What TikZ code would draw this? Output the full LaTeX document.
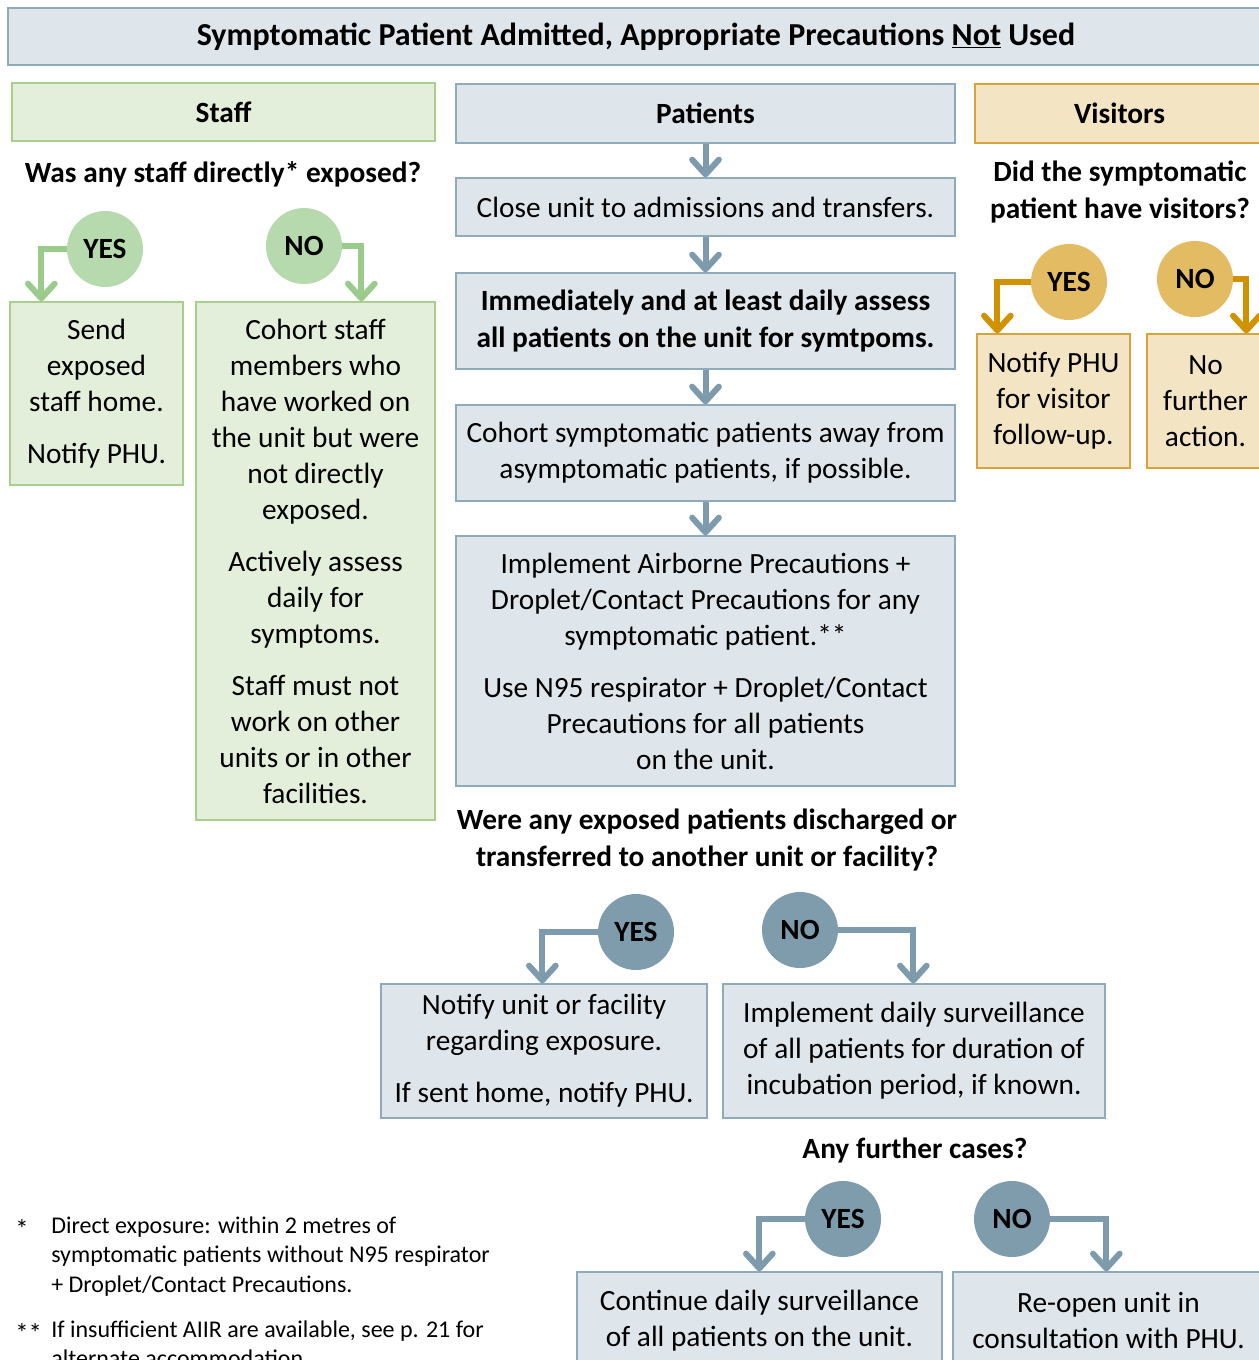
\documentclass[tikz,border=0pt]{standalone}
\usepackage{fontspec}
\setmainfont{Carlito}
\usetikzlibrary{arrows.meta}
\definecolor{pfill}{HTML}{DFE6EB}
\definecolor{pline}{HTML}{8FAABB}
\definecolor{parrow}{HTML}{7E9BAD}
\definecolor{pcirc}{HTML}{7F9CAD}
\definecolor{gfill}{HTML}{E3EFDB}
\definecolor{gline}{HTML}{A8D08D}
\definecolor{garrow}{HTML}{9ACB8C}
\definecolor{gcirc}{HTML}{B6DAAE}
\definecolor{yfill}{HTML}{F3E4C3}
\definecolor{yline}{HTML}{D6A43A}
\definecolor{yarrow}{HTML}{D09200}
\definecolor{ycirc}{HTML}{E2BB63}
\begin{document}
\begin{tikzpicture}[x=0.75pt,y=-0.75pt,
  txt/.style={font=\fontsize{22}{27}\selectfont, align=center, inner sep=0pt},
  bold/.style={txt, font=\fontsize{22}{27.5}\selectfont\bfseries},
  bf/.style={font=\fontsize{22}{27.5}\selectfont\bfseries},
  box/.style={txt, draw, line width=1pt},
  bx/.style 2 args={minimum width=#1*0.75pt, minimum height=#2*0.75pt},
  pbox/.style={box, draw=pline, fill=pfill},
  gbox/.style={box, draw=gline, fill=gfill},
  ybox/.style={box, draw=yline, fill=yfill},
  circ/.style={circle, minimum size=57pt, inner sep=0pt, font=\fontsize{22}{27}\selectfont\bfseries},
  pcircle/.style={circ, fill=pcirc},
  gcircle/.style={circ, fill=gcirc},
  ycircle/.style={circ, fill=ycirc},
  arr/.style={line width=4.5pt, -{Straight Barb[length=11pt,width=20pt,round]}},
  parr/.style={arr, draw=parrow},
  garr/.style={arr, draw=garrow},
  yarr/.style={arr, draw=yarrow},
  fn/.style={font=\fontsize{18}{22.1}\selectfont, align=left, inner sep=0pt}
]
\useasboundingbox (0,0) rectangle (1259,1360);
\clip (0,0) rectangle (1259,1360);

% title
\node[pbox, font=\fontsize{24}{28}\selectfont\bfseries, bx={1256}{57}] (title) at (636,36.5)
  {Symptomatic Patient Admitted, Appropriate Precautions \underline{Not} Used};

% headers
\node[gbox, bf, bx={423}{58}] (staff) at (223.5,112) {Staff};
\node[pbox, bf, bx={499}{59}] (patients) at (705.5,113.5) {Patients};
\node[ybox, bf, bx={289}{59}] (visitors) at (1119.5,113.5) {Visitors};

% ---------- staff ----------
\node[bold] (sq) at (223,174) {Was any staff directly* exposed?};
\node[gcircle] (syes) at (105,249) {YES};
\node[gcircle] (sno) at (304,246) {NO};
\node[gbox, bx={173}{183}] (send) at (96.5,393.5)
  {Send\\exposed\\staff home.\\[12pt]Notify PHU.};
\node[gbox, bx={239}{518}] (cohort) at (315.5,561)
  {Cohort staff\\members who\\have worked on\\the unit but were\\not directly\\exposed.\\[12pt]Actively assess\\daily for\\symptoms.\\[12pt]Staff must not\\work on other\\units or in other\\facilities.};
\draw[garr] (syes.west) -| ([xshift=24pt]send.north west);
\draw[garr] (sno.east) -| ([xshift=124.5pt]cohort.north west);

% ---------- patients ----------
\node[pbox, bx={499}{58}] (close) at (705.5,207) {Close unit to admissions and transfers.};
\node[pbox, bf, bx={499}{96}] (assess) at (705.5,321)
  {Immediately and at least daily assess\\all patients on the unit for symtpoms.};
\node[pbox, bx={499}{96}] (cohortp) at (705.5,453)
  {Cohort symptomatic patients away from\\asymptomatic patients, if possible.};
\node[pbox, bx={499}{250}] (impl) at (705.5,661)
  {Implement Airborne Precautions +\\Droplet/Contact Precautions for any\\symptomatic patient.**\\[12pt]Use N95 respirator + Droplet/Contact\\Precautions for all patients\\on the unit.};
\draw[parr] (patients) -- (close);
\draw[parr] (close) -- (assess);
\draw[parr] (assess) -- (cohortp);
\draw[parr] (cohortp) -- (impl);

\node[bold] (pq) at (707,840) {Were any exposed patients discharged or\\transferred to another unit or facility?};
\node[pcircle] (pyes) at (636,932) {YES};
\node[pcircle] (pno) at (800,930) {NO};
\node[pbox, bx={326}{134}] (notify) at (544,1051)
  {Notify unit or facility\\regarding exposure.\\[12pt]If sent home, notify PHU.};
\node[pbox, bx={382}{134}] (surv) at (914,1051)
  {Implement daily surveillance\\of all patients for duration of\\incubation period, if known.};
\draw[parr] (pyes.west) -| ([xshift=121.5pt]notify.north west);
\draw[parr] (pno.east) -| ([xshift=143.25pt]surv.north west);

\node[bold] (fq) at (915,1150) {Any further cases?};
\node[pcircle] (fyes) at (843,1219) {YES};
\node[pcircle] (fno) at (1012,1219) {NO};
\node[pbox, bx={365}{97}] (cont) at (759.5,1320.5)
  {Continue daily surveillance\\of all patients on the unit.};
\node[pbox, bx={311}{97}] (reopen) at (1108.5,1320.5)
  {Re-open unit in\\consultation with PHU.};
\draw[parr] (fyes.west) -| ([xshift=137.25pt]cont.north west);
\draw[parr] (fno.east) -| ([xshift=115.5pt]reopen.north west);

% ---------- visitors ----------
\node[bold] (vq) at (1120,192) {Did the symptomatic\\patient have visitors?};
\node[ycircle] (vyes) at (1069,282) {YES};
\node[ycircle] (vno) at (1195,279) {NO};
\node[ybox, bx={153}{134}] (vnotify) at (1053.5,401) {Notify PHU\\for visitor\\follow-up.};
\node[ybox, bx={117}{134}] (vnone) at (1205.5,401) {No\\further\\action.};
\draw[yarr] (vyes.west) -| ([xshift=15.75pt]vnotify.north west);
\draw[yarr] (vno.east) -| ([xshift=75pt]vnone.north west);

% ---------- footnotes ----------
\node[fn, font=\fontsize{20}{22}\selectfont, anchor=base west] (fm1) at (15,1238) {*};
\node[fn, anchor=base west] (ft1) at (51,1292)
  {Direct exposure: within 2 metres of\\symptomatic patients without N95 respirator\\+ Droplet/Contact Precautions.};
\node[fn, font=\fontsize{20}{22}\selectfont, anchor=base west] (fm2) at (15,1342) {**};
\node[fn, anchor=base west] (ft2) at (51,1366.5)
  {If insufficient AIIR are available, see p. 21 for\\alternate accommodation.};
\end{tikzpicture}
\end{document}
